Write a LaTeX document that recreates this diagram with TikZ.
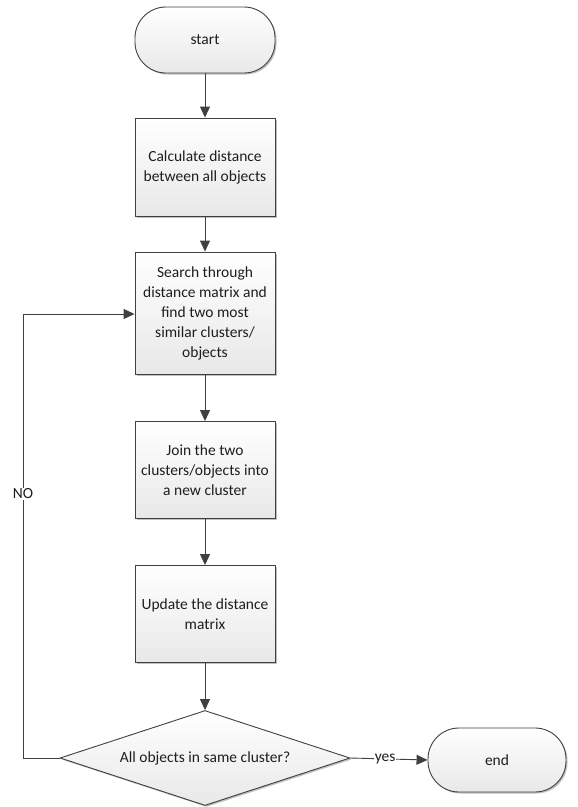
\documentclass[tikz,border=0pt]{standalone}
\usepackage{fontspec}
\setmainfont{Carlito}
\usetikzlibrary{shapes.geometric,arrows.meta,shadows}
\definecolor{lc}{HTML}{404040}
\definecolor{tc}{HTML}{1E1E1E}
\begin{document}
\begin{tikzpicture}[x=1pt,y=-1pt,
  txt/.style={text=tc, font=\fontsize{15.5}{20}\selectfont},
  shd/.style={drop shadow={shadow xshift=1.5pt, shadow yshift=-1.5pt, opacity=0.25, fill=black}},
  box/.style={txt, shd, draw=lc, line width=0.9pt, top color=white, bottom color=black!9, minimum width=140pt, inner sep=4pt, align=center},
  term/.style={box, rounded corners=31pt},
  dia/.style={shape=diamond, shd, draw=lc, line width=0.9pt, top color=white, bottom color=black!9, inner sep=0pt, minimum width=290pt, minimum height=95pt},
  arr/.style={draw=lc, line width=0.9pt, -{Triangle[length=11pt,width=10pt]}},
  lab/.style={txt, fill=white, inner sep=1pt}
]
\useasboundingbox (0,0) rectangle (578,807);
\node[term, minimum height=66pt] (start) at (205,40) {start};
\node[box, minimum height=98pt] (calc) at (205,167) {Calculate distance\\between all objects};
\node[box, minimum height=122pt] (search) at (205,313) {Search through\\distance matrix and\\find two most\\similar clusters/\\objects};
\node[box, minimum height=97pt] (join) at (205,470) {Join the two\\clusters/objects into\\a new cluster};
\node[box, minimum height=97pt] (update) at (205,614) {Update the distance\\matrix};
\node[dia] (dec) at (205,758) {};
\node[txt] (dectext) at (dec.center) {All objects in same cluster?};
\node[term, minimum width=138pt, minimum height=64pt] (end) at (497,760) {end};
\coordinate (lb) at (23,758);
\coordinate (lt) at (23,314);
\draw[arr] (start) -- (calc);
\draw[arr] (calc) -- (search);
\draw[arr] (search) -- (join);
\draw[arr] (join) -- (update);
\draw[arr] (update) -- (dec);
\draw[arr] (dec.east) -- node[lab, pos=0.45] {yes} (end.west);
\draw[arr] (dec.west) -- (lb) -- node[lab, pos=0.595] {NO} (lt) -- (lt -| search.west);
\end{tikzpicture}
\end{document}
